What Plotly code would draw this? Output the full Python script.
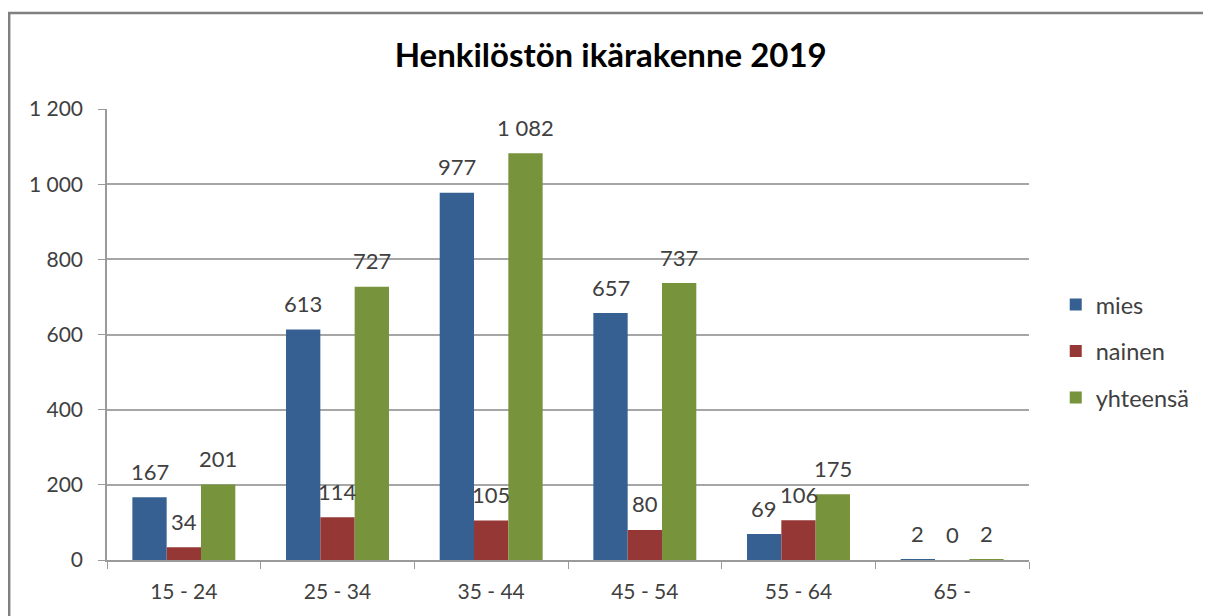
import plotly.graph_objects as go

categories = ["15 - 24", "25 - 34", "35 - 44", "45 - 54", "55 - 64", "65 -"]
mies = [167, 613, 977, 657, 69, 2]
nainen = [34, 114, 105, 80, 106, 0]
yhteensa = [201, 727, 1082, 737, 175, 2]
y_ticks = [0, 200, 400, 600, 800, 1000, 1200]

FONT = "Lato"
TXT = "#404040"
W, H = 1203, 608
ML, MR, MT, MB = 99, 182, 101, 56
BARGAP = 0.33

series = [("mies", mies, "#376092"),
          ("nainen", nainen, "#953735"),
          ("yhteensä", yhteensa, "#77933C")]

fig = go.Figure()
for name, vals, col in series:
    fig.add_trace(go.Bar(
        x=categories, y=vals, name=name, legendgroup=name,
        marker=dict(color=col, line=dict(width=0)),
    ))

# data labels placed above each bar through the axes' scales
plot_w = W - ML - MR
bar_px = plot_w / len(categories) * (1 - BARGAP) / len(series)
annotations = []
for k, (name, vals, col) in enumerate(series):
    for c, v in zip(categories, vals):
        annotations.append(dict(
            x=c, y=v, xref="x", yref="y", text=f"{v:,}".replace(",", " "),
            showarrow=False, xanchor="center", yanchor="middle",
            xshift=(k - 1) * bar_px, yshift=26,
            font=dict(family=FONT, size=22, color=TXT)))

fig.update_layout(
    width=W, height=H,
    separators=". ",
    paper_bgcolor="white", plot_bgcolor="white",
    margin=dict(l=ML, r=MR, t=MT, b=MB),
    barmode="group", bargap=BARGAP, bargroupgap=0,
    title=dict(text="<b>Henkilöstön ikärakenne 2019</b>", x=0.501, xanchor="center",
               y=0.9227, yanchor="middle",
               font=dict(family=FONT, size=33, color="black")),
    font=dict(family=FONT, size=21, color=TXT),
    legend=dict(x=1.029, y=0.463, yanchor="middle", xanchor="left",
                font=dict(family=FONT, size=23.5, color=TXT),
                tracegroupgap=13, traceorder="grouped", itemwidth=30),
    showlegend=True,
    annotations=annotations,
)
fig.update_xaxes(type="category", showline=True, linecolor="#9a9a9a", linewidth=1.5,
                 ticks="outside", tickson="boundaries", ticklen=7, tickcolor="#9a9a9a",
                 ticklabelstandoff=12,
                 tickfont=dict(family=FONT, size=21, color=TXT), showgrid=False)
fig.update_yaxes(range=[0, 1200], tickvals=y_ticks, tickformat=",d",
                 showline=True, linecolor="#9a9a9a", linewidth=1.5,
                 ticks="outside", ticklen=7, tickcolor="#9a9a9a",
                 ticklabelstandoff=11,
                 showgrid=True, gridcolor="#a6a6a6", gridwidth=1.5,
                 zeroline=False, tickfont=dict(family=FONT, size=21, color=TXT))

# chart frame (bottom edge lies below the visible area)
fig.add_shape(type="rect", xref="paper", yref="paper",
              x0=-0.1061, x1=1.1963, y0=-0.2, y1=1.2129,
              line=dict(color="#808080", width=2.5), fillcolor="rgba(0,0,0,0)")

fig.write_html("out.html")
